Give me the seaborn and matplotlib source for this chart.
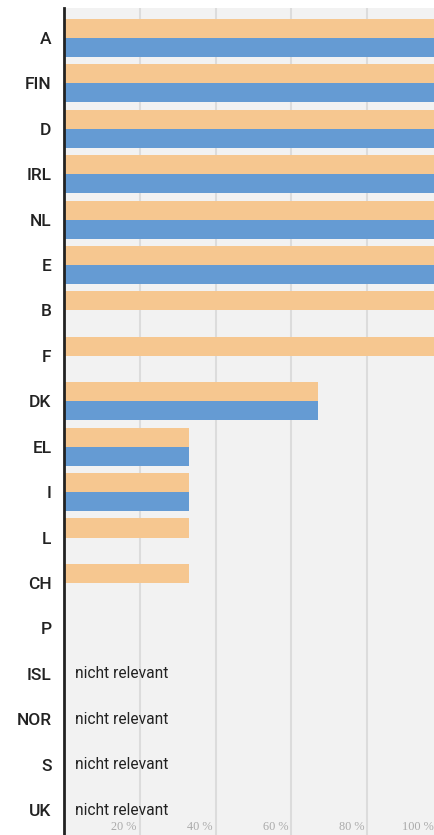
import numpy as np
import pandas as pd
import matplotlib
matplotlib.use("Agg")
import matplotlib.pyplot as plt
import matplotlib.transforms as mtransforms
import seaborn as sns

# data
laender = ["A", "FIN", "D", "IRL", "NL", "E", "B", "F", "DK", "EL",
           "I", "L", "CH", "P", "ISL", "NOR", "S", "UK"]
werte_orange = [100, 100, 100, 100, 100, 100, 100, 100, 67, 33,
                33, 33, 33, np.nan, np.nan, np.nan, np.nan, np.nan]
werte_blau = [100, 100, 100, 100, 100, 100, np.nan, np.nan, 67, 33,
              33, np.nan, np.nan, np.nan, np.nan, np.nan, np.nan, np.nan]
nicht_relevant = ["ISL", "NOR", "S", "UK"]
x_ticks = [20, 40, 60, 80, 100]
x_labels = ["20 %", "40 %", "60 %", "80 %", "100 %"]

df = pd.DataFrame({
    "land": laender * 2,
    "wert": werte_orange + werte_blau,
    "serie": ["orange"] * len(laender) + ["blau"] * len(laender),
})

sns.set_style("white")
plt.rcParams["font.family"] = ["Roboto", "DejaVu Sans"]

fig = plt.figure(figsize=(4.35, 8.35), dpi=100)
ax = fig.add_axes([64 / 435, 0, (443 - 64) / 435, (835 - 8) / 835])
ax.set_facecolor("#f2f2f2")

sns.barplot(data=df, y="land", x="wert", hue="serie", orient="h",
            order=laender, hue_order=["orange", "blau"],
            palette={"orange": "#f6c790", "blau": "#659bd3"},
            width=0.84, saturation=1, linewidth=0, errorbar=None,
            legend=False, ax=ax)

ax.set_xlim(0, 100)
ax.set_ylim(17.55, -0.66)
for v in x_ticks:
    ax.axvline(v, color="#dcdcdc", lw=1.5, zorder=0)
ax.set_axisbelow(True)

for s in ["top", "right", "bottom"]:
    ax.spines[s].set_visible(False)
ax.spines["left"].set_color("#222222")
ax.spines["left"].set_linewidth(2)

ax.set_xticks([])
ax.set_xlabel("")
ax.set_ylabel("")
ax.tick_params(axis="y", length=0, pad=9, labelsize=12.5, labelcolor="#222222")
for lab in ax.get_yticklabels():
    lab.set_fontweight("medium")

# x labels sit inside the plot, just left of their grid line
trans = mtransforms.blended_transform_factory(ax.transData, ax.transAxes)
for v, t in zip(x_ticks, x_labels):
    ax.text(min(v - 0.8, 97.6), 0.002, t, transform=trans, ha="right", va="bottom",
            fontsize=8.8, color="#aaaaaa", family=["Liberation Serif", "DejaVu Serif"])

for land in nicht_relevant:
    ax.text(2.8, laender.index(land), "nicht relevant", ha="left", va="center",
            fontsize=11.2, color="#222222")

fig.savefig("out.png", dpi=100)
